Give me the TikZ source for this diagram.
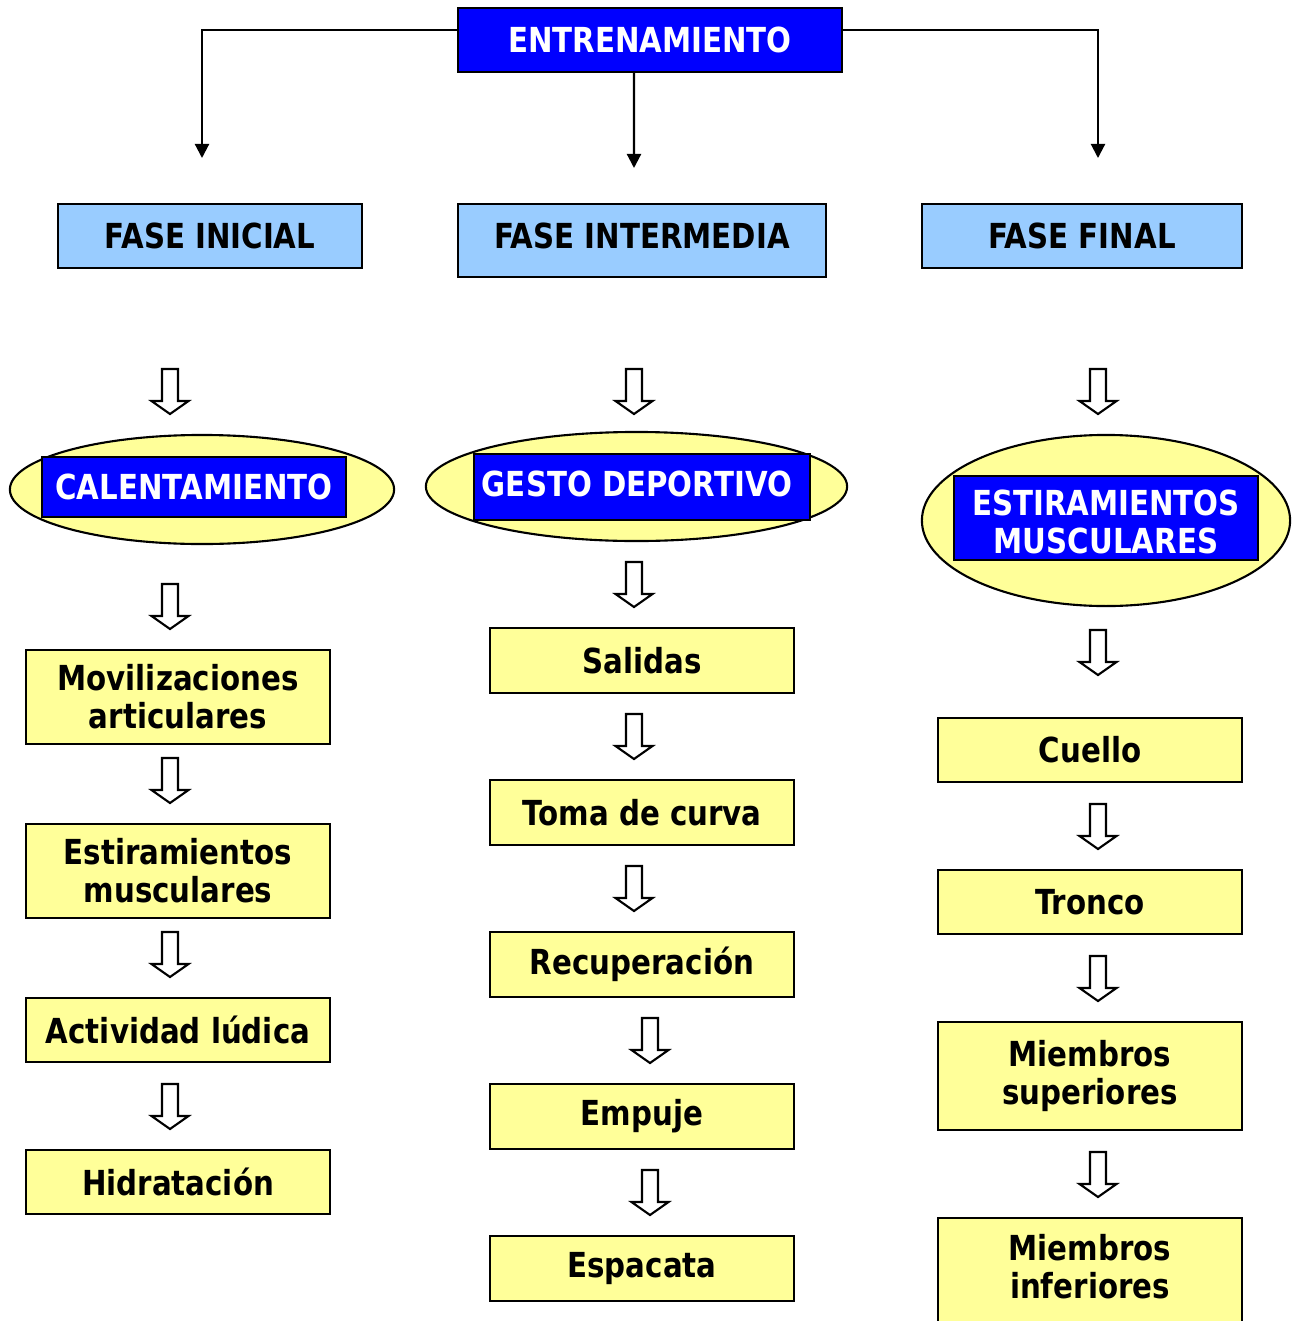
\documentclass[tikz,border=0pt]{standalone}
\usepackage{fontspec}
\setmainfont{DejaVu Sans}[FakeStretch=0.85]
\usetikzlibrary{arrows.meta,shapes.geometric}
\definecolor{hblue}{RGB}{0,0,255}
\definecolor{lblue}{RGB}{153,204,255}
\definecolor{lyellow}{RGB}{255,255,153}

\begin{document}
\begin{tikzpicture}[x=0.01cm, y=-0.01cm,
        every node/.style={font=\fontsize{9.8}{10.8}\selectfont\bfseries, align=center, inner sep=0pt},
        topbox/.style={draw=black, line width=0.6pt, fill=hblue, text=white},
        phasebox/.style={draw=black, line width=0.6pt, fill=lblue},
        itembox/.style={draw=black, line width=0.6pt, fill=lyellow, minimum width=3.04cm},
        oval/.style={ellipse, draw=black, line width=0.6pt, fill=lyellow},
        conn/.style={line width=0.6pt, -{Triangle[width=0.14cm,length=0.14cm]}},
        hollow/.pic={\draw[line width=0.6pt, fill=white, line join=miter]
            (-8,0) -- (8,0) -- (8,32) -- (18.5,32) -- (0,45) -- (-18.5,32) -- (-8,32) -- cycle;}]
        \useasboundingbox (0,0) rectangle (1298,1321);

        % top
        \node[topbox, minimum width=3.84cm, minimum height=0.64cm] (entren) at (650,40) {ENTRENAMIENTO};
        \coordinate (c1) at (202,158);
        \coordinate (c2) at (634,168);
        \coordinate (c3) at (1098,158);
        \draw[conn] ([yshift=0.1cm]entren.west) -| (c1);
        \draw[conn] ([xshift=-0.16cm]entren.south) -- (c2);
        \draw[conn] ([yshift=0.1cm]entren.east) -| (c3);

        % phases
        \node[phasebox, minimum width=3.04cm, minimum height=0.64cm] (inicial) at (210,236) {FASE INICIAL};
        \node[phasebox, minimum width=3.68cm, minimum height=0.73cm] (interm) at (642,240.5) {};
        \node (intermtxt) at (642,236) {FASE INTERMEDIA};
        \node[phasebox, minimum width=3.20cm, minimum height=0.64cm] (final) at (1082,236) {FASE FINAL};

        \pic at (170,369) {hollow};
        \pic at (634,369) {hollow};
        \pic at (1098,369) {hollow};

        % ovals
        \node[oval, minimum width=3.84cm, minimum height=1.09cm] (ov1) at (202,489.5) {};
        \node[topbox, minimum width=3.04cm, minimum height=0.60cm] (calent) at (194,487) {CALENTAMIENTO};
        \node[oval, minimum width=4.21cm, minimum height=1.09cm] (ov2) at (636.5,486.5) {};
        \node[topbox, minimum width=3.36cm, minimum height=0.66cm] (gesto) at (642,487) {};
        \node[text=white] (gestotxt) at (637,484) {GESTO DEPORTIVO};
        \node[oval, minimum width=3.68cm, minimum height=1.71cm] (ov3) at (1106,520.5) {};
        \node[topbox, minimum width=3.04cm, minimum height=0.84cm] (estir) at (1106,518) {};
        \node[text=white] (estirtxt) at (1106,522) {ESTIRAMIENTOS\\MUSCULARES};

        % column 1
        \pic at (170,584) {hollow};
        \node[itembox, minimum height=0.94cm] (movil) at (178,697) {Movilizaciones\\articulares};
        \pic at (170,758) {hollow};
        \node[itembox, minimum height=0.94cm] (estmus) at (178,871) {Estiramientos\\musculares};
        \pic at (170,932) {hollow};
        \node[itembox, minimum height=0.64cm] (ludica) at (178,1030) {Actividad lúdica};
        \pic at (170,1084) {hollow};
        \node[itembox, minimum height=0.64cm] (hidrat) at (178,1182) {Hidratación};

        % column 2
        \pic at (634,562) {hollow};
        \node[itembox, minimum height=0.65cm] (salidas) at (642,660.5) {Salidas};
        \pic at (634,714) {hollow};
        \node[itembox, minimum height=0.65cm] (curva) at (642,812.5) {Toma de curva};
        \pic at (634,866) {hollow};
        \node[itembox, minimum height=0.65cm] (recup) at (642,964.5) {Recuperación};
        \pic at (650,1018) {hollow};
        \node[itembox, minimum height=0.65cm] (empuje) at (642,1116.5) {Empuje};
        \pic at (650,1170) {hollow};
        \node[itembox, minimum height=0.65cm] (espac) at (642,1268.5) {Espacata};

        % column 3
        \pic at (1098,630) {hollow};
        \node[itembox, minimum height=0.64cm] (cuello) at (1090,750) {Cuello};
        \pic at (1098,804) {hollow};
        \node[itembox, minimum height=0.64cm] (tronco) at (1090,902) {Tronco};
        \pic at (1098,956) {hollow};
        \node[itembox, minimum height=1.08cm] (msup) at (1090,1076) {Miembros\\superiores};
        \pic at (1098,1152) {hollow};
        \node[itembox, minimum height=1.20cm] (minf) at (1090,1278) {};
        \node (minftxt) at (1090,1267) {Miembros\\inferiores};
    \end{tikzpicture}
\end{document}
